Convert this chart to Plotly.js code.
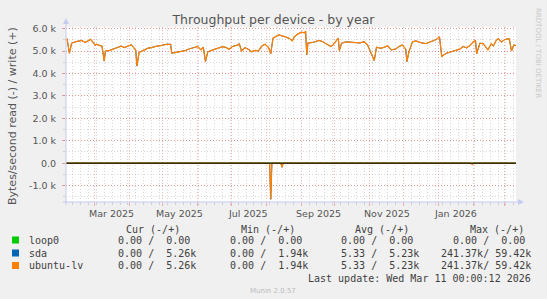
<!DOCTYPE html>
<html>
<head>
<meta charset="utf-8">
<script src="https://cdn.plot.ly/plotly-3.0.1.min.js"></script>
<style>
  html, body { margin: 0; padding: 0; background: #F0F0F0; }
  #chart { width: 547px; height: 299px; }
</style>
</head>
<body>
<div id="chart"></div>
<script>
// ---------------- data ----------------
const writeDates = ["2025-02-04","2025-02-05","2025-02-07","2025-02-09","2025-02-13","2025-02-18","2025-02-21","2025-02-26","2025-02-28",
  "2025-03-02","2025-03-03","2025-03-08","2025-03-10","2025-03-11","2025-03-15","2025-03-18","2025-03-22","2025-03-25","2025-03-28","2025-03-31",
  "2025-04-03","2025-04-07","2025-04-08","2025-04-10","2025-04-14","2025-04-18","2025-04-21","2025-04-25","2025-04-30",
  "2025-05-04","2025-05-08","2025-05-09","2025-05-13","2025-05-17","2025-05-21","2025-05-25","2025-05-29",
  "2025-06-01","2025-06-04","2025-06-06","2025-06-08","2025-06-10","2025-06-14","2025-06-19","2025-06-23","2025-06-26","2025-06-29",
  "2025-07-02","2025-07-07","2025-07-08","2025-07-10","2025-07-13","2025-07-16","2025-07-19","2025-07-22","2025-07-25","2025-07-28","2025-07-31",
  "2025-08-03","2025-08-05","2025-08-07","2025-08-12","2025-08-15","2025-08-18","2025-08-22","2025-08-24","2025-08-26","2025-08-28",
  "2025-09-01","2025-09-04","2025-09-05","2025-09-06","2025-09-07","2025-09-11","2025-09-17","2025-09-20","2025-09-24","2025-09-27","2025-09-29",
  "2025-10-04","2025-10-05","2025-10-07","2025-10-11","2025-10-17","2025-10-23","2025-10-27","2025-10-30",
  "2025-11-01","2025-11-05","2025-11-07","2025-11-11","2025-11-14","2025-11-17","2025-11-20","2025-11-24","2025-11-27","2025-11-30",
  "2025-12-03","2025-12-04","2025-12-06","2025-12-09","2025-12-12","2025-12-17","2025-12-21","2025-12-26","2025-12-30",
  "2026-01-02","2026-01-04","2026-01-08","2026-01-12","2026-01-17","2026-01-20","2026-01-23","2026-01-26","2026-01-29",
  "2026-02-01","2026-02-03","2026-02-04","2026-02-07","2026-02-10","2026-02-14","2026-02-17","2026-02-19","2026-02-21","2026-02-23","2026-02-26",
  "2026-03-01","2026-03-05","2026-03-07","2026-03-09","2026-03-11"];
const ubuntuWrite = [5500,5530,4900,5350,5420,5470,5380,5520,5380,
  5250,5300,5210,4550,5000,5030,5080,5150,5220,5150,5210,
  5280,5030,4330,4940,5020,5130,5150,5210,5250,
  5300,5300,4900,4940,4970,5020,5100,5170,
  5200,5050,5170,4530,4960,5040,5130,5190,5160,5080,
  5200,5270,5330,5000,5150,5080,4970,5030,5000,5220,5300,
  5150,4880,5570,5720,5680,5630,5550,5450,5630,5720,
  5840,5810,5890,4830,5350,5380,5470,5420,5300,5210,5250,
  5570,5020,5350,5410,5380,5360,5410,5270,
  5050,4570,5170,5120,5170,5230,5050,5090,5200,5270,
  5080,4530,5000,5410,5450,5360,5330,5450,5510,
  5630,4760,4900,4970,5040,5080,5200,5140,5240,
  5410,5470,4880,5350,5320,5050,5320,5230,5440,5550,5400,
  5510,5550,5000,5270,5240];
const sdaWrite = ubuntuWrite.slice();          // identical to ubuntu-lv
const loop0Write = writeDates.map(() => 0);

const readDates = ["2025-02-04","2025-08-04","2025-08-05","2025-08-06","2025-08-14","2025-08-15","2025-08-16",
  "2026-01-30","2026-01-31","2026-02-01","2026-03-11"];
const ubuntuRead = [0,0,-1610,0,0,-180,0,0,-50,0,0];
const sdaRead = ubuntuRead.slice();
const loop0Read = readDates.map(() => 0);

const yTickVals = [-1000,0,1000,2000,3000,4000,5000,6000];
const yTickText = ["-1.0 k","0.0","1.0 k","2.0 k","3.0 k","4.0 k","5.0 k","6.0 k"];
const xLabelDates = ["2025-03-16","2025-05-16","2025-07-16","2025-09-16","2025-11-16","2026-01-16"];
const xLabelText = ["Mar 2025","May 2025","Jul 2025","Sep 2025","Nov 2025","Jan 2026"];

const seriesNames = ["loop0","sda","ubuntu-lv"];
const seriesColors = ["#00CC00","#0066B3","#FF8000"];
const legendCur = [["0.00","","0.00",""],["0.00","","5.26","k"],["0.00","","5.26","k"]];
const legendMin = [["0.00","","0.00",""],["0.00","","1.94","k"],["0.00","","1.94","k"]];
const legendAvg = [["0.00","","0.00",""],["5.33","","5.23","k"],["5.33","","5.23","k"]];
const legendMax = [["0.00","","0.00",""],["241.37","k","59.42","k"],["241.37","k","59.42","k"]];
const legendHeaders = ["Cur (-/+)","Min (-/+)","Avg (-/+)","Max (-/+)"];
const lastUpdate = "Last update: Wed Mar 11 00:00:12 2026";

// ---------------- geometry helpers (pixel -> paper) ----------------
const W = 547, H = 299, L = 66, R = 516, T = 27, B = 202;
const px = x => (x - L) / (R - L);
const py = y => (B - y) / (B - T);
const NB = s => s.replace(/ /g, "\u00A0");

// ---------------- traces ----------------
const traces = [];
const reads = [loop0Read, sdaRead, ubuntuRead];
const writes = [loop0Write, sdaWrite, ubuntuWrite];
const widths = [1, 1, 1.25];
for (let i = 0; i < 3; i++) {
  traces.push({x: readDates, y: reads[i], type: "scatter", mode: "lines",
    line: {color: seriesColors[i], width: widths[i]}, hoverinfo: "skip", showlegend: false});
  traces.push({x: writeDates, y: writes[i], type: "scatter", mode: "lines",
    line: {color: seriesColors[i], width: widths[i]}, hoverinfo: "skip", showlegend: false});
}

// ---------------- annotations ----------------
const mono = {family: "DejaVu Sans Mono", size: 10, color: "#404040"};
const ann = [];
xLabelDates.forEach((d, i) => ann.push({x: d, xref: "x", y: py(213), yref: "paper",
  text: xLabelText[i], showarrow: false, xanchor: "center", yanchor: "middle",
  font: {family: "DejaVu Sans", size: 9.5, color: "#555555"}}));
ann.push({x: px(12), y: py(116), xref: "paper", yref: "paper", text: "Bytes/second read (-) / write (+)",
  textangle: -90, showarrow: false, xanchor: "center", yanchor: "middle",
  font: {family: "DejaVu Sans", size: 11, color: "#555555"}});
ann.push({x: px(538), y: py(53), xref: "paper", yref: "paper", text: "RRDTOOL / TOBI OETIKER",
  textangle: 90, showarrow: false, xanchor: "center", yanchor: "middle",
  font: {family: "DejaVu Sans", size: 7, color: "#C8C8C8"}});

const colEnds = [198, 310, 421, 533];
const headerEnds = [182, 297, 411, 526];
legendHeaders.forEach((h, i) => ann.push({x: px(headerEnds[i]), y: py(229), xref: "paper", yref: "paper",
  text: NB(h), showarrow: false, xanchor: "right", yanchor: "middle", font: mono}));
const rowsY = [240, 253, 265.5];
const cols = [legendCur, legendMin, legendAvg, legendMax];
const fmt = c => c[0].padStart(6, " ") + (c[1] || " ") + "/" + c[2].padStart(6, " ") + (c[3] || " ");
const shapes = [];
seriesNames.forEach((n, r) => {
  ann.push({x: px(26.5), y: py(rowsY[r]), xref: "paper", yref: "paper", text: NB(n),
    showarrow: false, xanchor: "left", yanchor: "middle", font: mono});
  cols.forEach((c, k) => ann.push({x: px(colEnds[k]), y: py(rowsY[r]), xref: "paper", yref: "paper",
    text: NB(fmt(c[r])), showarrow: false, xanchor: "right", yanchor: "middle", font: mono}));
  shapes.push({type: "rect", xref: "paper", yref: "paper", x0: px(12), x1: px(19),
    y0: py(rowsY[r] + 3.5), y1: py(rowsY[r] - 3.5), fillcolor: seriesColors[r], line: {width: 0}});
});
ann.push({x: px(533), y: py(278), xref: "paper", yref: "paper", text: NB(lastUpdate),
  showarrow: false, xanchor: "right", yanchor: "middle", font: mono});
ann.push({x: px(273), y: py(290.5), xref: "paper", yref: "paper", text: "Munin 2.0.57",
  showarrow: false, xanchor: "center", yanchor: "middle",
  font: {family: "DejaVu Sans", size: 7, color: "#BBBBBB"}});

// zero rule and axis arrows
const axisCol = "#C4CAF0";
shapes.push({type: "line", xref: "paper", yref: "y", x0: 0, x1: 1, y0: 0, y1: 0,
  line: {color: "#000000", width: 1}, layer: "above"});
shapes.push({type: "line", xref: "paper", yref: "paper", x0: px(66), x1: px(66), y0: py(205), y1: py(22),
  line: {color: axisCol, width: 1}, layer: "above"});
shapes.push({type: "line", xref: "paper", yref: "paper", x0: px(63), x1: px(520), y0: py(202), y1: py(202),
  line: {color: axisCol, width: 1}, layer: "above"});
shapes.push({type: "path", xref: "paper", yref: "paper",
  path: `M ${px(63)} ${py(24)} L ${px(69)} ${py(24)} L ${px(66)} ${py(18)} Z`,
  fillcolor: axisCol, line: {width: 0}, layer: "above"});
shapes.push({type: "path", xref: "paper", yref: "paper",
  path: `M ${px(518)} ${py(199)} L ${px(518)} ${py(205)} L ${px(524)} ${py(202)} Z`,
  fillcolor: axisCol, line: {width: 0}, layer: "above"});

const majorGrid = "rgba(255,0,0,0.30)";
const minorGrid = "rgba(128,128,128,0.30)";
const dotDash = "1px,2px";

const layout = {
  width: W, height: H,
  margin: {l: L, r: W - R, t: T, b: H - B, pad: 0},
  paper_bgcolor: "#F0F0F0", plot_bgcolor: "#FFFFFF",
  showlegend: false,
  title: {text: "Throughput per device - by year", x: 0.5, xref: "container", xanchor: "center",
    y: 1 - 20 / H, yref: "container", yanchor: "middle",
    font: {family: "DejaVu Sans", size: 12.5, color: "#555555"}},
  xaxis: {type: "date", range: ["2025-02-04", "2026-03-11"], dtick: "M1", tick0: "2025-01-01",
    showgrid: true, gridcolor: majorGrid, griddash: dotDash, gridwidth: 1,
    showticklabels: false, ticks: "outside", ticklen: 3, tickcolor: majorGrid,
    zeroline: false, showline: false, fixedrange: true,
    minor: {dtick: 7 * 86400000, tick0: "2025-02-03", showgrid: true, gridcolor: minorGrid,
      griddash: dotDash, gridwidth: 1, ticks: "outside", ticklen: 2, tickcolor: minorGrid}},
  yaxis: {range: [-1730, 6070], tickmode: "array", tickvals: yTickVals, ticktext: yTickText,
    showgrid: true, gridcolor: majorGrid, griddash: dotDash, gridwidth: 1,
    ticks: "outside", ticklen: 3, tickcolor: majorGrid, ticklabelstandoff: 4,
    tickfont: {family: "DejaVu Sans", size: 9.5, color: "#555555"},
    zeroline: false, showline: false, fixedrange: true,
    minor: {dtick: 500, tick0: 0, showgrid: true, gridcolor: minorGrid, griddash: dotDash, gridwidth: 1,
      ticks: "outside", ticklen: 2, tickcolor: minorGrid}},
  annotations: ann,
  shapes: shapes
};

Plotly.newPlot("chart", traces, layout, {staticPlot: true, displayModeBar: false});
</script>
</body>
</html>
